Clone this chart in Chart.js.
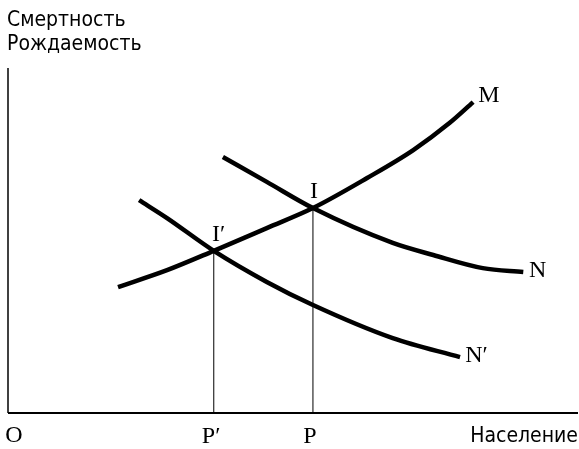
<!DOCTYPE html>
<html>
<head>
<meta charset="utf-8">
<script src="https://cdn.jsdelivr.net/npm/chart.js@4.4.1/dist/chart.umd.min.js"></script>
<style>
  html, body { margin: 0; padding: 0; background: #fff; }
  #wrap { width: 579px; height: 449px; }
</style>
</head>
<body>
<div id="wrap"><canvas id="chart" width="579" height="449"></canvas></div>
<script>
// кривые (население, коэффициент) в условных единицах 0..100
const curveM  = [[19.3, 36.5], [27.9, 41.4], [36.1, 47.0], [45.4, 53.6], [53.5, 59.4],
                 [63.0, 68.1], [71.1, 76.2], [77.5, 84.1], [81.6, 90.1]];
const curveN  = [[37.7, 74.2], [45.4, 67.0], [53.5, 59.4], [67.5, 49.3], [74.6, 45.8],
                 [83.3, 42.0], [90.4, 40.9]];
const curveN2 = [[23.0, 61.7], [27.9, 56.5], [36.1, 47.0], [45.4, 38.0], [53.5, 31.3],
                 [67.5, 21.7], [79.3, 16.2]];
// точки равновесия I' и I
const eqPoints = [[36.1, 47.0], [53.5, 59.4]];
const axisX = [[0, 0], [100, 0]];
const axisY = [[0, 0], [0, 100]];

// подписи: текст, x левого края, y базовой линии (в тех же единицах)
const curveLabels = [
  ['M', 82.5, 90.1], ['N', 91.4, 39.4], ['N′', 80.2, 14.8],
  ['I', 53.0, 62.3], ['I′', 35.8, 49.9]
];
const axisLabels = [['O', -0.5, -8.5], ['P′', 34.0, -8.8], ['P', 51.8, -8.8]];

const toXY = arr => arr.map(([x, y]) => ({ x, y }));

const textPlugin = {
  id: 'texts',
  afterDraw(chart) {
    const { ctx, scales: { x, y } } = chart;
    ctx.save();
    ctx.fillStyle = '#000';
    ctx.textAlign = 'left';
    ctx.textBaseline = 'alphabetic';
    ctx.font = '24px "Liberation Serif", serif';
    curveLabels.concat(axisLabels).forEach(([t, vx, vy]) => {
      ctx.fillText(t, x.getPixelForValue(vx), y.getPixelForValue(vy));
    });
    ctx.font = '21px "DejaVu Sans Condensed", sans-serif';
    ctx.fillText('Смертность', 7, 26);
    ctx.fillText('Рождаемость', 7, 50);
    ctx.textAlign = 'right';
    ctx.fillText('Население', 578, 442);
    ctx.restore();
  }
};

const line = (data, width, smooth) => ({
  data: toXY(data), showLine: true, borderColor: '#000', borderWidth: width,
  pointRadius: 0, fill: false, clip: false, borderCapStyle: 'butt',
  cubicInterpolationMode: smooth ? 'monotone' : 'default', tension: 0
});

new Chart(document.getElementById('chart'), {
  type: 'scatter',
  data: {
    datasets: [
      line(axisX, 2, false),
      line(axisY, 1.5, false),
      line([[eqPoints[0][0], 0], eqPoints[0]], 1, false),
      line([[eqPoints[1][0], 0], eqPoints[1]], 1, false),
      line(curveM, 4.5, true),
      line(curveN, 4.5, true),
      line(curveN2, 4.5, true)
    ]
  },
  options: {
    responsive: false,
    animation: false,
    layout: { padding: { left: 8, right: 1, top: 68, bottom: 36 } },
    plugins: { legend: { display: false }, tooltip: { enabled: false } },
    scales: {
      x: { type: 'linear', min: 0, max: 100, display: false },
      y: { type: 'linear', min: 0, max: 100, display: false }
    }
  },
  plugins: [textPlugin]
});
</script>
</body>
</html>
